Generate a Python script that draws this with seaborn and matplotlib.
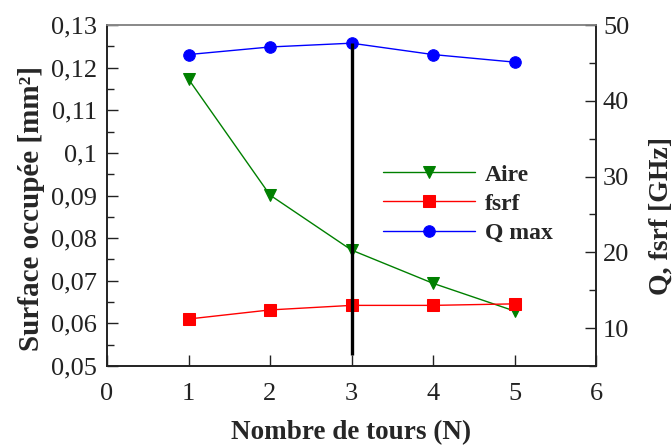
import matplotlib
matplotlib.use('Agg')
import numpy as np
import pandas as pd
import seaborn as sns
import matplotlib.pyplot as plt
from matplotlib.ticker import FuncFormatter, MultipleLocator

# ---- data ----
tours = [1, 2, 3, 4, 5]
aire = [0.1173, 0.0901, 0.0772, 0.0694, 0.0629]     # mm², left axis
fsrf = [11.2, 12.4, 13.0, 13.0, 13.2]               # GHz, right axis
qmax = [46.1, 47.1, 47.6, 46.1, 45.1]               # right axis
x_ticks = [0, 1, 2, 3, 4, 5, 6]
marker_n = 3          # vertical marker line position
marker_low = 6.5      # bottom of vertical line (right-axis units)
marker_high = 47.6    # top of vertical line (right-axis units)

sns.set_theme(style='ticks')
plt.rcParams['font.family'] = ['Liberation Serif', 'DejaVu Serif']

fig = plt.figure(figsize=(6.72, 4.46), dpi=100)
ax = fig.add_axes([107 / 672, 80 / 446, 489 / 672, 341 / 446])
ax2 = ax.twinx()

df = pd.DataFrame({'N': tours, 'aire': aire, 'fsrf': fsrf, 'qmax': qmax})

ms = 8.3
sns.lineplot(data=df, x='N', y='aire', ax=ax, color='green', marker='v',
             markersize=ms, markeredgecolor='green', linewidth=1, label='Aire',
             legend=False)
sns.lineplot(data=df, x='N', y='fsrf', ax=ax2, color='red', marker='s',
             markersize=ms, markeredgecolor='red', linewidth=1, label='fsrf',
             legend=False)
sns.lineplot(data=df, x='N', y='qmax', ax=ax2, color='blue', marker='o',
             markersize=ms, markeredgecolor='blue', linewidth=1, label='Q max',
             legend=False)
ax2.vlines(marker_n, marker_low, marker_high, color='black', linewidth=2.4, zorder=5)

# axes limits and ticks
ax.set_xlim(0, 6)
ax.set_xticks(x_ticks)
ax.set_ylim(0.05, 0.13)
ax.yaxis.set_major_locator(MultipleLocator(0.01))
ax.yaxis.set_minor_locator(MultipleLocator(0.005))
ax.yaxis.set_major_formatter(FuncFormatter(lambda v, p: ('%g' % round(v, 3)).replace('.', ',')))
ax2.set_ylim(5, 50)
ax2.yaxis.set_major_locator(MultipleLocator(10))
ax2.yaxis.set_minor_locator(MultipleLocator(5))

tk = '#222222'
fs_tick = 19
ax.tick_params(axis='y', which='major', direction='in', length=8, width=1,
               labelsize=fs_tick, pad=7, colors=tk)
ax.tick_params(axis='y', which='minor', direction='in', length=5, width=1, colors=tk)
ax.tick_params(axis='x', which='major', direction='in', length=8, width=1,
               labelsize=fs_tick, pad=12, colors=tk)
ax2.tick_params(axis='y', which='major', direction='in', length=8, width=1,
                labelsize=fs_tick, pad=5, colors=tk)
ax2.tick_params(axis='y', which='minor', direction='in', length=5, width=1, colors=tk)

for a in (ax, ax2):
    for s in a.spines.values():
        s.set_linewidth(1.2)
        s.set_color(tk)
    a.spines['top'].set_color('#888888')

ax.set_xlabel('Nombre de tours (N)', fontsize=19.5, fontweight='bold')
ax.xaxis.set_label_coords(0.5, -0.158)
ax.set_ylabel('Surface occupée [mm²]', fontsize=21, fontweight='bold')
ax.yaxis.set_label_coords(-0.127, 0.462)
ax2.set_ylabel('Q, fsrf [GHz]', fontsize=20, fontweight='bold')
ax2.yaxis.set_label_coords(1.107, 0.44)

handles = ax.get_lines()[:1] + ax2.get_lines()[:2]
leg = ax2.legend(handles=handles, labels=['Aire', 'fsrf', 'Q max'],
                 loc='upper left', bbox_to_anchor=(383 / 672, 0.632),
                 bbox_transform=fig.transFigure, frameon=False,
                 borderpad=0, borderaxespad=0, handlelength=3.9,
                 handletextpad=0.42, labelspacing=0.32,
                 prop={'family': 'Liberation Serif', 'weight': 'bold', 'size': 17})

fig.savefig('out.png', dpi=100)
